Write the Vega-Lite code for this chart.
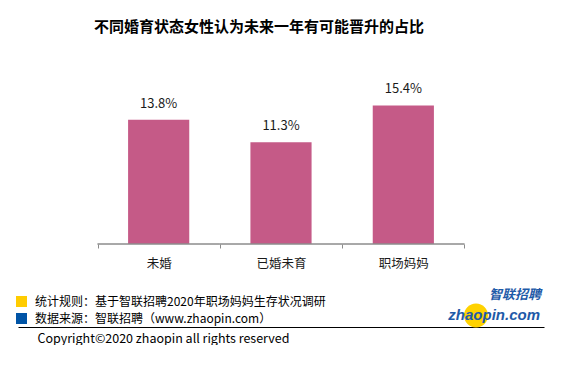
{
  "$schema": "https://vega.github.io/schema/vega-lite/v6.json",
  "background": "white",
  "padding": {"left": 16, "top": 20, "right": 20, "bottom": 0},
  "spacing": 18,
  "config": {"view": {"stroke": null}, "font": "Noto Sans CJK SC"},
  "title": {
    "text": "不同婚育状态女性认为未来一年有可能晋升的占比",
    "fontSize": 15,
    "fontWeight": "bold",
    "font": "Noto Sans CJK SC",
    "color": "#000000",
    "anchor": "middle",
    "dx": -21,
    "offset": 47
  },
  "vconcat": [
    {
      "width": 526,
      "height": 162,
      "data": {"values": [
        {"group": "未婚", "share": 0.138},
        {"group": "已婚未育", "share": 0.113},
        {"group": "职场妈妈", "share": 0.154}
      ]},
      "encoding": {
        "x": {
          "field": "group", "type": "nominal", "sort": null,
          "scale": {"paddingInner": 0, "paddingOuter": 0.65},
          "axis": {
            "title": null, "domain": false, "ticks": true, "tickBand": "extent",
            "tickSize": 4, "tickColor": "#8C8C8C", "labelAngle": 0,
            "labelFontSize": 12.5, "labelColor": "#1a1a1a", "labelPadding": 9,
            "labelFont": "Noto Sans CJK SC"
          }
        },
        "y": {"field": "share", "type": "quantitative", "scale": {"domain": [0, 0.18]}, "axis": null}
      },
      "layer": [
        {"mark": {"type": "bar", "width": {"band": 0.5}, "color": "#C55A87"}},
        {
          "mark": {"type": "bar", "width": {"band": 1}, "fill": "transparent", "stroke": "#8C8C8C", "strokeWidth": 1},
          "encoding": {"y": {"datum": 0, "type": "quantitative", "axis": null}}
        },
        {
          "mark": {"type": "text", "baseline": "alphabetic", "dy": -12, "fontSize": 13, "color": "#1a1a1a", "font": "Noto Sans CJK SC"},
          "encoding": {"text": {"field": "share", "type": "quantitative", "format": ".1%"}}
        }
      ]
    },
    {
      "width": 526,
      "height": 34,
      "data": {"values": [
        {"row": "统计规则", "note": "统计规则：基于智联招聘2020年职场妈妈生存状况调研"},
        {"row": "数据来源", "note": "数据来源：智联招聘（www.zhaopin.com）"}
      ]},
      "layer": [
        {
          "mark": {"type": "point", "shape": "M-0.36,-1H1.64V1H-0.36Z", "size": 121, "filled": true, "opacity": 1, "strokeWidth": 0},
          "encoding": {
            "x": {"datum": 0, "type": "quantitative", "scale": {"domain": [0, 1]},
              "axis": {"orient": "bottom", "domain": true, "domainColor": "#000000", "domainWidth": 1, "ticks": false, "labels": false, "grid": false,
                "title": "Copyright©2020 zhaopin all rights reserved", "titleAlign": "left", "titleAnchor": "start", "titleX": 19, "titleY": 11,
                "titleBaseline": "middle", "titleFontSize": 12.5, "titleFontWeight": "normal", "titleColor": "#000000", "titleFont": "Noto Sans CJK SC"}},
            "y": {"field": "row", "type": "nominal", "scale": {"domain": ["统计规则", "数据来源"]}, "axis": null},
            "color": {"field": "row", "type": "nominal", "scale": {"domain": ["统计规则", "数据来源"], "range": ["#FFCC00", "#0054A6"]}, "legend": null}
          }
        },
        {
          "mark": {"type": "text", "align": "left", "baseline": "middle", "dx": 17, "fontSize": 12, "color": "#000000", "font": "Noto Sans CJK SC"},
          "encoding": {
            "x": {"datum": 0, "type": "quantitative", "scale": {"domain": [0, 1]},
              "axis": {"orient": "bottom", "domain": true, "domainColor": "#000000", "domainWidth": 1, "ticks": false, "labels": false, "grid": false,
                "title": "Copyright©2020 zhaopin all rights reserved", "titleAlign": "left", "titleAnchor": "start", "titleX": 19, "titleY": 11,
                "titleBaseline": "middle", "titleFontSize": 12.5, "titleFontWeight": "normal", "titleColor": "#000000", "titleFont": "Noto Sans CJK SC"}},
            "y": {"field": "row", "type": "nominal", "scale": {"domain": ["统计规则", "数据来源"]}, "axis": null},
            "text": {"field": "note"}
          }
        },
        {
          "data": {"values": [{"row": "数据来源"}]},
          "mark": {"type": "point", "shape": "M-6.667,-0.25A1,1,0,1,0,-4.667,-0.25A1,1,0,1,0,-6.667,-0.25Z", "size": 576, "filled": true, "color": "#FFD200", "opacity": 1, "strokeWidth": 0},
          "encoding": {
            "x": {"datum": 1, "type": "quantitative", "scale": {"domain": [0, 1]},
              "axis": {"orient": "bottom", "domain": true, "domainColor": "#000000", "domainWidth": 1, "ticks": false, "labels": false, "grid": false,
                "title": "Copyright©2020 zhaopin all rights reserved", "titleAlign": "left", "titleAnchor": "start", "titleX": 19, "titleY": 11,
                "titleBaseline": "middle", "titleFontSize": 12.5, "titleFontWeight": "normal", "titleColor": "#000000", "titleFont": "Noto Sans CJK SC"}},
            "y": {"field": "row", "type": "nominal", "scale": {"domain": ["统计规则", "数据来源"]}, "axis": null}
          }
        },
        {
          "data": {"values": [{"row": "统计规则", "logo": "智联招聘"}]},
          "mark": {"type": "text", "align": "right", "baseline": "middle", "dx": -3, "dy": -7, "fontSize": 13, "fontWeight": "bold", "fontStyle": "italic", "color": "#1E5AA8", "font": "Noto Sans CJK SC"},
          "encoding": {
            "x": {"datum": 1, "type": "quantitative", "scale": {"domain": [0, 1]},
              "axis": {"orient": "bottom", "domain": true, "domainColor": "#000000", "domainWidth": 1, "ticks": false, "labels": false, "grid": false,
                "title": "Copyright©2020 zhaopin all rights reserved", "titleAlign": "left", "titleAnchor": "start", "titleX": 19, "titleY": 11,
                "titleBaseline": "middle", "titleFontSize": 12.5, "titleFontWeight": "normal", "titleColor": "#000000", "titleFont": "Noto Sans CJK SC"}},
            "y": {"field": "row", "type": "nominal", "scale": {"domain": ["统计规则", "数据来源"]}, "axis": null},
            "text": {"field": "logo"}
          }
        },
        {
          "data": {"values": [{"row": "数据来源", "logo": "zhaopin.com"}]},
          "mark": {"type": "text", "align": "right", "baseline": "middle", "dx": -4, "dy": -4, "fontSize": 15, "fontWeight": "bold", "fontStyle": "italic", "color": "#1E5AA8", "font": "Liberation Sans"},
          "encoding": {
            "x": {"datum": 1, "type": "quantitative", "scale": {"domain": [0, 1]},
              "axis": {"orient": "bottom", "domain": true, "domainColor": "#000000", "domainWidth": 1, "ticks": false, "labels": false, "grid": false,
                "title": "Copyright©2020 zhaopin all rights reserved", "titleAlign": "left", "titleAnchor": "start", "titleX": 19, "titleY": 11,
                "titleBaseline": "middle", "titleFontSize": 12.5, "titleFontWeight": "normal", "titleColor": "#000000", "titleFont": "Noto Sans CJK SC"}},
            "y": {"field": "row", "type": "nominal", "scale": {"domain": ["统计规则", "数据来源"]}, "axis": null},
            "text": {"field": "logo"}
          }
        }
      ]
    }
  ]
}
